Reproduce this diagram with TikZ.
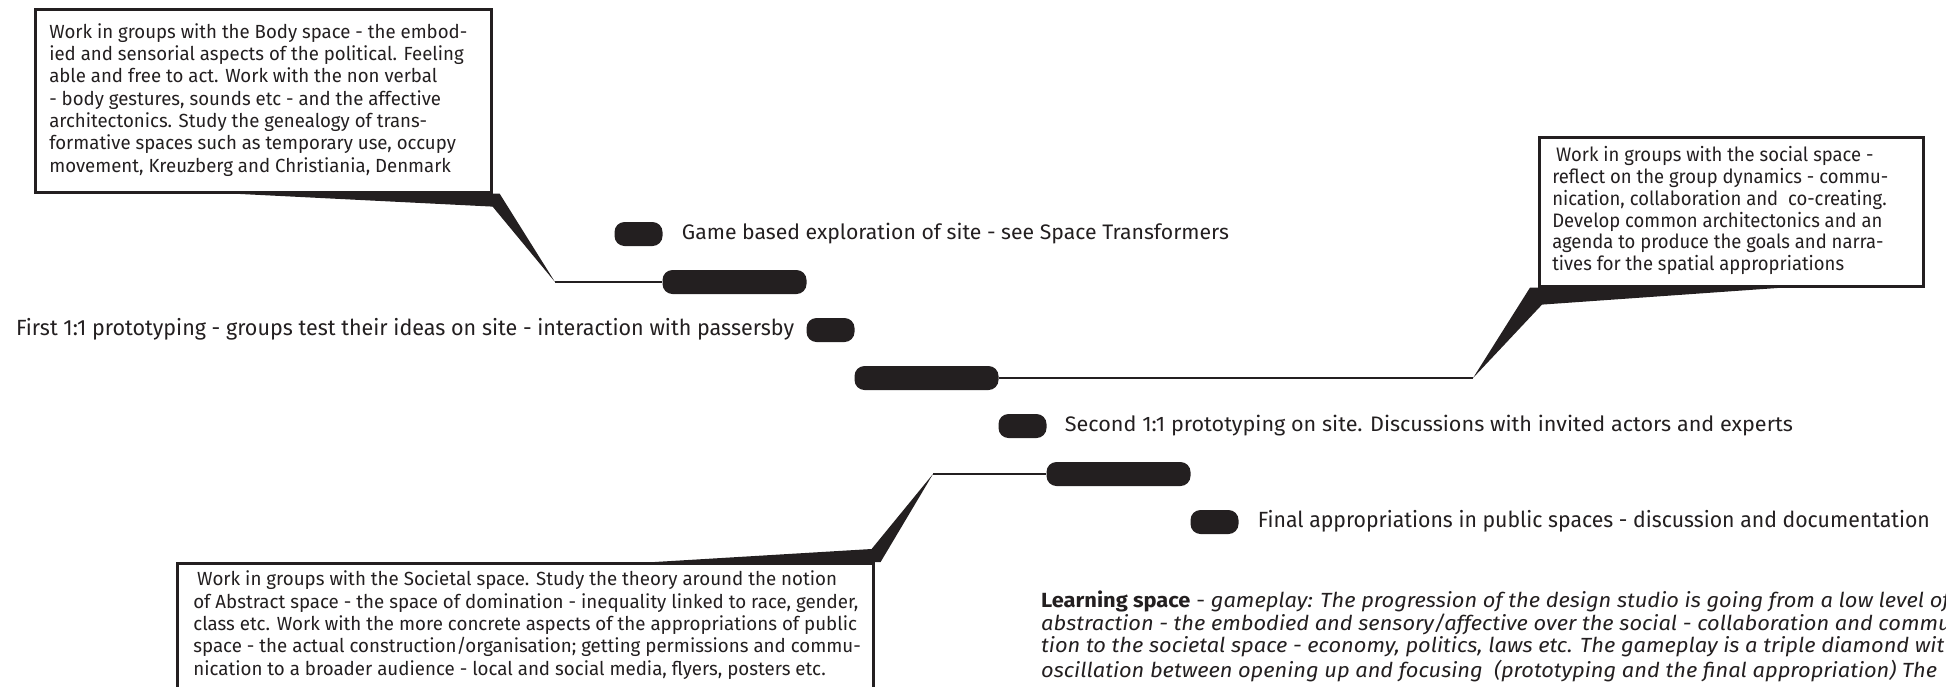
\documentclass[tikz,border=0pt]{standalone}
\usepackage{graphicx}
\usepackage{fontspec}
\setmainfont{Fira Sans}
\usetikzlibrary{calc}
\definecolor{ink}{HTML}{231F20}
\newlength\refw
\newcommand\fitlines[3]{%
  \settowidth\refw{#2}%
  \pgfmathsetmacro\fitratio{#1/\refw}%
  \scalebox{\fitratio}[1]{\begin{tabular}[t]{@{}l@{}}#3\end{tabular}}}
\newcommand\fitline[2]{\resizebox{#1}{\height}{#2}}
\begin{document}
\begin{tikzpicture}[x=1pt,y=-1pt,
  pill/.style={fill=ink, rounded corners=10pt, inner sep=0pt, minimum height=24pt},
  shortpill/.style={pill, minimum width=48pt},
  longpill/.style={pill, minimum width=144pt},
  bubble/.style={draw=ink, line width=2.6pt, inner xsep=14pt, inner ysep=0pt, text=ink, anchor=north west},
  lab/.style={inner sep=0pt, text=ink},
  normlab/.style={lab, font=\fontsize{21}{25}\selectfont},
  condlab/.style={lab, font=\fontsize{22}{26}\selectfont},
  lead/.style={draw=ink, line width=2pt},
  tail/.style={fill=ink}]
\useasboundingbox (0,0) rectangle (1946,686);
\clip (0,0) rectangle (1946,686);

% pills (staircase)
\node[shortpill] (p1) at (638.5,234) {};
\node[longpill]  (p2) at (734.5,282) {};
\node[shortpill] (p3) at (830.5,330) {};
\node[longpill]  (p4) at (926.5,378) {};
\node[shortpill] (p5) at (1022.5,426) {};
\node[longpill]  (p6) at (1118.5,474) {};
\node[shortpill] (p7) at (1214.5,522) {};

% labels
\node[normlab, anchor=base west] (l1) at ($(p1.east)+(19,5.5)$)
  {\fitline{547pt}{Game based exploration of site - see Space Transformers}};
\node[condlab, anchor=base east] (l3) at ($(p3.west)+(-12,5.8)$)
  {\fitline{778pt}{First 1:1 prototyping - groups test their ideas on site - interaction with passersby}};
\node[normlab, anchor=base west] (l5) at ($(p5.east)+(18,5.5)$)
  {\fitline{728pt}{Second 1:1 prototyping on site. Discussions with invited actors and experts}};
\node[condlab, anchor=base west] (l7) at ($(p7.east)+(19,5.8)$)
  {\fitline{672pt}{Final appropriations in public spaces - discussion and documentation}};

% speech boxes
\node[bubble, minimum height=183pt, font=\fontsize{19}{22.3}\selectfont] (body) at (34,8)
  {\makebox[428pt][l]{\fitlines{418}{Work in groups with the Body space - the embod-}{%
   Work in groups with the Body space - the embod-\\
   ied and sensorial aspects of the political. Feeling\\
   able and free to act. Work with the non verbal\\
   - body gestures, sounds etc - and the affective\\
   architectonics. Study the genealogy of trans-\\
   formative spaces such as temporary use, occupy\\
   movement, Kreuzberg and Christiania, Denmark}}};

\node[bubble, inner xsep=13pt, minimum height=149pt, font=\fontsize{19.5}{21.6}\selectfont] (social) at (1538,136)
  {\makebox[358pt][l]{\fitlines{336}{reflect on the group dynamics - commu-}{%
   \hspace*{4pt}Work in groups with the social space -\\
   reflect on the group dynamics - commu-\\
   nication, collaboration and\ \ co-creating.\\
   Develop common architectonics and an\\
   agenda to produce the goals and narra-\\
   tives for the spatial appropriations}}};

\node[bubble, inner xsep=16pt, inner ysep=7pt, text depth=200pt, font=\fontsize{19}{22.3}\selectfont] (societal) at (176,562)
  {\makebox[664pt][l]{\fitlines{665}{of Abstract space - the space of domination - inequality linked to race, gender,}{%
   \hspace*{4pt}Work in groups with the Societal space. Study the theory around the notion\\
   of Abstract space - the space of domination - inequality linked to race, gender,\\
   class etc. Work with the more concrete aspects of the appropriations of public\\
   space - the actual construction/organisation; getting permissions and commu-\\
   nication to a broader audience - local and social media, flyers, posters etc.}}};

% tails and leader lines
\coordinate (t1) at (555,282);
\coordinate (t2) at (1473,378);
\coordinate (t3) at (933,474);
\fill[tail] ($(body.south east)+(-260,0)$) -- ($(body.south east)+(7,0)$) -- (t1)
  -- ($(body.south east)+(0,13)$) -- cycle;
\fill[tail] ($(social.south west)+(245,0)$) -- ($(social.south west)+(-8,0)$) -- (t2)
  -- ($(social.south west)+(4,17)$) -- cycle;
\fill[tail] ($(societal.north east)+(-220,0)$) -- ($(societal.north east)+(-3,-13)$) -- (t3)
  -- ($(societal.north east)+(6,0)$) -- cycle;
\draw[lead] (t1) -- (p2.west);
\draw[lead] (p4.east) -- (t2);
\draw[lead] (t3) -- (p6.west);

% learning space text
\node[lab, anchor=base west, font=\fontsize{20.5}{22.3}\selectfont] (learn) at (1041,607)
  {\fitlines{883}{\textbf{Learning space} - \textit{gameplay: The progression of the design studio is going from a low level}}{%
   \textbf{Learning space} - \textit{gameplay: The progression of the design studio is going from a low level of}\\
   \textit{abstraction - the embodied and sensory/affective over the social - collaboration and commu}\\
   \textit{tion to the societal space - economy, politics, laws etc. The gameplay is a triple diamond wit}\\
   \textit{oscillation between opening up and focusing\ \ (prototyping and the final appropriation) The}}};
\end{tikzpicture}
\end{document}
